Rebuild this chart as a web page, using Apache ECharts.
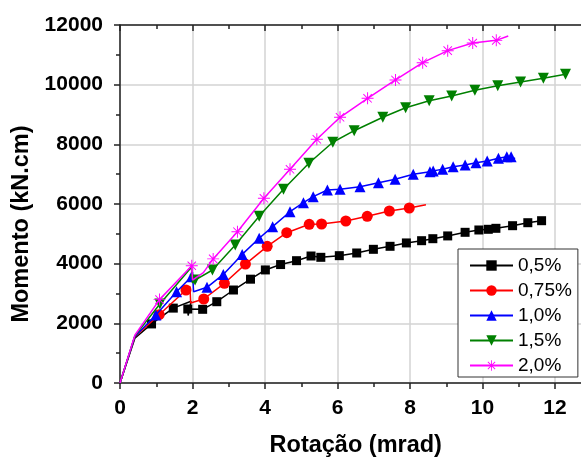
<!DOCTYPE html>
<html>
<head>
<meta charset="utf-8">
<script src="https://cdn.jsdelivr.net/npm/echarts@6/dist/echarts.min.js"></script>
<style>
  html, body { margin: 0; padding: 0; background: #fff; overflow: hidden; }
  /* the plot runs past the right edge of the 581px picture, so the canvas is wider */
  #chart { width: 628px; height: 458px; }
</style>
</head>
<body>
<div id="chart"></div>
<script>
// series names (legend order)
const names = ['0,5%', '0,75%', '1,0%', '1,5%', '2,0%']

// rotation (mrad) / moment (kN.cm) for each curve
const rot05 = [0, 0.41, 0.87, 1.47, 1.96, 1.88, 1.87, 2.28, 2.67, 3.13, 3.6, 4.01, 4.43, 4.87, 5.27, 5.54, 6.05, 6.53, 6.99, 7.45, 7.9, 8.32, 8.63, 9.04, 9.52, 9.9, 10.16, 10.37, 10.83, 11.25, 11.63]
const mom05 = [0, 1500, 1980, 2510, 2740, 2260, 2480, 2470, 2725, 3117, 3480, 3790, 3970, 4100, 4257, 4213, 4268, 4358, 4481, 4582, 4695, 4770, 4837, 4930, 5051, 5129, 5152, 5185, 5273, 5373, 5440]
const plain05 = [0, 1, 4, 5]

const rot075 = [0, 0.41, 1.08, 1.82, 1.93, 1.95, 2.31, 2.88, 3.46, 4.06, 4.6, 5.22, 5.56, 6.23, 6.82, 7.43, 7.98, 8.44]
const mom075 = [0, 1550, 2290, 3117, 3230, 2680, 2816, 3342, 3985, 4580, 5038, 5320, 5330, 5430, 5588, 5765, 5866, 5977]
const plain075 = [0, 1, 4, 5, 17]

const rot10 = [0, 0.41, 0.99, 1.56, 1.97, 2.0, 2.03, 2.4, 2.85, 3.37, 3.84, 4.21, 4.69, 5.06, 5.33, 5.72, 6.07, 6.62, 7.13, 7.59, 8.09, 8.55, 8.64, 8.9, 9.19, 9.52, 9.82, 10.13, 10.44, 10.67, 10.79, 10.9]
const mom10 = [0, 1560, 2280, 3060, 3560, 3720, 3060, 3208, 3640, 4310, 4850, 5240, 5742, 6044, 6245, 6470, 6493, 6580, 6714, 6828, 7000, 7083, 7110, 7163, 7250, 7307, 7384, 7441, 7532, 7585, 7585, 7520]
const plain10 = [0, 1, 5, 6, 31]

const rot15 = [0, 0.41, 1.1, 1.97, 2.0, 2.07, 2.55, 3.18, 3.84, 4.51, 5.21, 5.87, 6.46, 7.25, 7.88, 8.53, 9.15, 9.79, 10.42, 11.05, 11.68, 12.29]
const mom15 = [0, 1580, 2650, 3880, 3350, 3450, 3788, 4626, 5590, 6493, 7364, 8070, 8457, 8906, 9225, 9458, 9620, 9810, 9960, 10090, 10214, 10348]
const plain15 = [0, 1, 3, 4]

const rot20 = [0, 0.41, 1.09, 1.98, 2.0, 2.3, 2.57, 3.24, 3.97, 4.69, 5.43, 6.07, 6.83, 7.6, 8.35, 9.04, 9.73, 10.38, 10.71]
const mom20 = [0, 1600, 2795, 3930, 3450, 3700, 4160, 5072, 6190, 7163, 8170, 8906, 9543, 10157, 10737, 11140, 11397, 11485, 11632]
const plain20 = [0, 1, 4, 5, 18]

// axis ticks
const xTicks = { min: 0, max: 14, interval: 2 }
const yTicks = { min: 0, max: 12000, interval: 2000 }

const FONT = 'Liberation Sans, Arial, sans-serif'
const asterisk =
  'path://M0 46L100 46L100 54L0 54Z M46 0L54 0L54 100L46 100Z' +
  ' M17.8 12.2L87.8 82.2L82.2 87.8L12.2 17.8Z M82.2 12.2L87.8 17.8L17.8 87.8L12.2 82.2Z'

const styles = [
  { color: '#000000', symbol: 'rect', size: 9, rotate: 0 },
  { color: '#ff0000', symbol: 'circle', size: 11, rotate: 0 },
  { color: '#0000ff', symbol: 'triangle', size: 11, rotate: 0 },
  { color: '#008000', symbol: 'triangle', size: 11, rotate: 180 },
  { color: '#ff00ff', symbol: asterisk, size: 12, rotate: 0 }
]

const curves = [
  [rot05, mom05, plain05],
  [rot075, mom075, plain075],
  [rot10, mom10, plain10],
  [rot15, mom15, plain15],
  [rot20, mom20, plain20]
]

function buildData(xs, ys, plain) {
  return xs.map((x, i) =>
    plain.includes(i) ? { value: [x, ys[i]], symbol: 'none' } : [x, ys[i]]
  )
}

const axisCommon = {
  type: 'value',
  axisLine: { show: true, lineStyle: { color: '#222', width: 1.5 } },
  axisTick: { show: true, length: 6, lineStyle: { color: '#222', width: 1.5 } },
  minorTick: { show: true, splitNumber: 2, length: 4, lineStyle: { color: '#222', width: 1.5 } },
  axisLabel: { color: '#000', fontFamily: FONT, fontSize: 21, fontWeight: 'bold', formatter: (v) => String(v) },
  nameTextStyle: { color: '#000', fontFamily: FONT, fontSize: 23.5, fontWeight: 'bold' }
}

const chart = echarts.init(document.getElementById('chart'), null, { renderer: 'canvas' })

chart.setOption({
  animation: false,
  backgroundColor: '#fff',
  // fixed plot box, do not shrink it to fit labels
  grid: { left: 120, top: 25, width: 507.5, height: 358, outerBoundsMode: 'none' },
  xAxis: [
    {
      ...axisCommon,
      ...xTicks,
      position: 'bottom',
      name: 'Rotação (mrad)',
      nameLocation: 'middle',
      nameGap: 51,
      nameTextStyle: { ...axisCommon.nameTextStyle, padding: [0, 36, 0, 0] },
      axisLabel: { ...axisCommon.axisLabel, margin: 15, showMaxLabel: false },
      splitLine: { show: true, lineStyle: { color: '#d3d3d3', width: 1.5 } }
    },
    {
      ...axisCommon,
      ...xTicks,
      position: 'top',
      axisTick: { ...axisCommon.axisTick, inside: true },
      axisLabel: { show: false },
      splitLine: { show: false }
    }
  ],
  yAxis: {
    ...axisCommon,
    ...yTicks,
    name: 'Momento (kN.cm)',
    nameLocation: 'middle',
    nameGap: 84,
    nameTextStyle: { ...axisCommon.nameTextStyle, padding: [0, 40, 0, 0] },
    axisLabel: { ...axisCommon.axisLabel, margin: 17 },
    splitLine: { show: true, lineStyle: { color: '#d3d3d3', width: 1.5 } }
  },
  legend: {
    orient: 'vertical',
    left: 458,
    top: 249,
    padding: [7, 6, 2, 11],
    itemGap: 6,
    itemWidth: 43,
    itemHeight: 13,
    backgroundColor: '#fff',
    borderColor: '#333',
    borderWidth: 1,
    textStyle: { color: '#000', fontFamily: FONT, fontSize: 19 },
    data: names
  },
  series: curves.map(([xs, ys, plain], i) => ({
    name: names[i],
    type: 'line',
    xAxisIndex: 0,
    data: buildData(xs, ys, plain),
    symbol: styles[i].symbol,
    symbolSize: styles[i].size,
    symbolRotate: styles[i].rotate,
    showAllSymbol: true,
    itemStyle: { color: styles[i].color },
    lineStyle: { color: styles[i].color, width: 1.5 },
    z: 2 + i
  }))
})
</script>
</body>
</html>
